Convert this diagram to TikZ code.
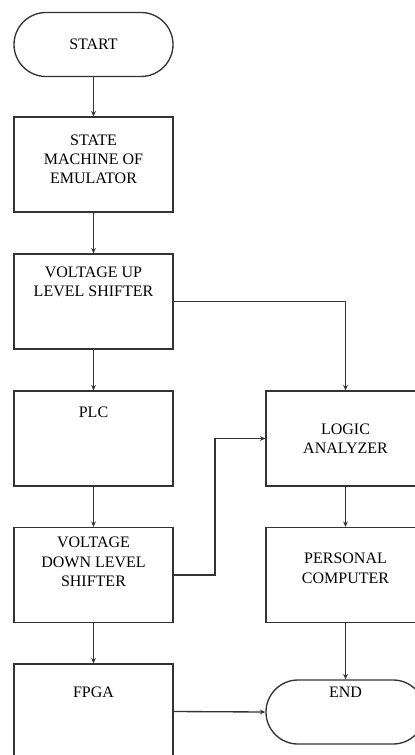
\documentclass[tikz,border=0pt]{standalone}
\usepackage{fontspec}
\setmainfont{Liberation Serif}
\usetikzlibrary{arrows.meta}
\tikzset{
  box/.style={draw=black!80, line width=1pt, minimum width=119.25pt, minimum height=71.25pt, inner sep=0pt},
  term/.style={box, minimum height=48pt, rounded corners=24pt},
  lbl/.style={align=center, inner sep=0pt, anchor=north, font=\fontsize{12}{14.5}\selectfont},
  arr/.style={draw=black!80, line width=1pt, -{Stealth[length=4pt,width=3.5pt]}}
}
\begin{document}
\begin{tikzpicture}[x=0.75pt,y=-0.75pt]
\useasboundingbox (0,0) rectangle (414,755);

\node[term, lbl, anchor=center] (start) at (93.5,44.5) {START};
\node[box, label={[lbl,yshift=-13.5pt]north:STATE\\MACHINE OF\\EMULATOR}] (state) at (93.5,164.5) {};
\node[box, label={[lbl,yshift=-9.75pt]north:VOLTAGE UP\\LEVEL SHIFTER}] (vup) at (93.5,301.5) {};
\node[box, label={[lbl,yshift=-12pt]north:PLC}] (plc) at (93.5,438.5) {};
\node[box, label={[lbl,yshift=-7.5pt]north:VOLTAGE\\DOWN LEVEL\\SHIFTER}] (vdown) at (93.5,575) {};
\node[box, label={[lbl,yshift=-17.25pt]north:FPGA}] (fpga) at (93.5,711.5) {};

\node[box, lbl, anchor=center] (logic) at (345.5,438.5) {LOGIC\\ANALYZER};
\node[box, label={[lbl,yshift=-19.5pt]north:PERSONAL\\COMPUTER}] (pc) at (345.5,575) {};
\node[term, label={[lbl,yshift=-5.25pt]north:END}] (end) at (345.5,712) {};

\coordinate (bend) at (215,575);

\draw[arr] (start) -- (state);
\draw[arr] (state) -- (vup);
\draw[arr] (vup) -- (plc);
\draw[arr] (plc) -- (vdown);
\draw[arr] (vdown) -- (fpga);
\draw[arr] (vup.east) -| (logic.north);
\draw[arr] (vdown.east) -- (bend) |- (logic.west);
\draw[arr] (logic) -- (pc);
\draw[arr] (pc) -- (end);
\draw[arr] (fpga.east) -- (end.west);
\end{tikzpicture}
\end{document}
